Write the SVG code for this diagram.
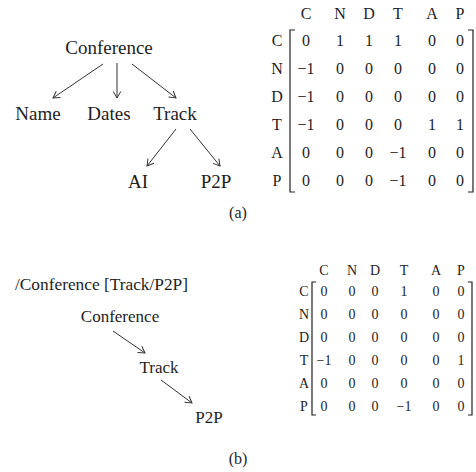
<svg xmlns="http://www.w3.org/2000/svg" width="476" height="472" viewBox="0 0 476 472">
<style>
text{font-family:'Liberation Serif','Times New Roman','DejaVu Serif',serif;fill:#1e1e1e}
.ta{font-size:19px;text-anchor:middle}
.tb{font-size:17px;text-anchor:middle}
.ma{font-size:16px;text-anchor:middle}
.mb{font-size:14px;text-anchor:middle}
.cap{font-size:16px;text-anchor:middle}
.e{stroke:#333;stroke-width:1;fill:none}
.br{stroke:#222;stroke-width:1.2;fill:none}
</style>
<defs>
<marker id="ar" viewBox="-8 -5 10 10" refX="0" refY="0" markerWidth="10" markerHeight="10" markerUnits="userSpaceOnUse" orient="auto">
<path d="M-6.5,-3.8 L0,0 L-6.5,3.8" stroke="#333" stroke-width="1" fill="none"/>
</marker>
</defs>
<g id="tree-a">
<g id="a-conference"><text class="ta" x="109" y="54">Conference</text></g>
<g id="a-name"><text class="ta" x="38" y="120">Name</text></g>
<g id="a-dates"><text class="ta" x="109" y="120">Dates</text></g>
<g id="a-track"><text class="ta" x="175" y="120">Track</text></g>
<g id="a-ai"><text class="ta" x="138" y="188">AI</text></g>
<g id="a-p2p"><text class="ta" x="216" y="188">P2P</text></g>
</g>
<g id="connectors-a">
<line class="e" x1="103" y1="64" x2="53" y2="98" marker-end="url(#ar)"/>
<line class="e" x1="117" y1="63" x2="117" y2="98" marker-end="url(#ar)"/>
<line class="e" x1="132" y1="64" x2="176" y2="98" marker-end="url(#ar)"/>
<line class="e" x1="176" y1="129" x2="147" y2="166" marker-end="url(#ar)"/>
<line class="e" x1="190" y1="129" x2="220" y2="166" marker-end="url(#ar)"/>
</g>
<g id="matrix-a">
<g class="ma">
<text x="306" y="19">C</text><text x="340" y="19">N</text><text x="369" y="19">D</text><text x="398" y="19">T</text><text x="432" y="19">A</text><text x="460" y="19">P</text>
<text x="277" y="46">C</text><text x="277" y="74">N</text><text x="277" y="102">D</text><text x="277" y="130">T</text><text x="277" y="158">A</text><text x="277" y="186">P</text>
<text x="306" y="46">0</text><text x="340" y="46">1</text><text x="369" y="46">1</text><text x="398" y="46">1</text><text x="432" y="46">0</text><text x="460" y="46">0</text>
<text x="306" y="74">−1</text><text x="340" y="74">0</text><text x="369" y="74">0</text><text x="398" y="74">0</text><text x="432" y="74">0</text><text x="460" y="74">0</text>
<text x="306" y="102">−1</text><text x="340" y="102">0</text><text x="369" y="102">0</text><text x="398" y="102">0</text><text x="432" y="102">0</text><text x="460" y="102">0</text>
<text x="306" y="130">−1</text><text x="340" y="130">0</text><text x="369" y="130">0</text><text x="398" y="130">0</text><text x="432" y="130">1</text><text x="460" y="130">1</text>
<text x="306" y="158">0</text><text x="340" y="158">0</text><text x="369" y="158">0</text><text x="398" y="158">−1</text><text x="432" y="158">0</text><text x="460" y="158">0</text>
<text x="306" y="186">0</text><text x="340" y="186">0</text><text x="369" y="186">0</text><text x="398" y="186">−1</text><text x="432" y="186">0</text><text x="460" y="186">0</text>
</g>
<path class="br" d="M295,30 H290 V192 H295"/>
<path class="br" d="M468,30 H473 V192 H468"/>
</g>
<text class="cap" x="238" y="218">(a)</text>
<g id="tree-b">
<g id="b-query"><text x="15" y="290" style="font-size:17px" textLength="173" lengthAdjust="spacingAndGlyphs">/Conference [Track/P2P]</text></g>
<g id="b-conference"><text class="tb" x="120" y="322">Conference</text></g>
<g id="b-track"><text class="tb" x="159" y="373">Track</text></g>
<g id="b-p2p"><text class="tb" x="209" y="423">P2P</text></g>
</g>
<g id="connectors-b">
<line class="e" x1="113" y1="331" x2="145" y2="353" marker-end="url(#ar)"/>
<line class="e" x1="161" y1="380" x2="192" y2="403" marker-end="url(#ar)"/>
</g>
<g id="matrix-b">
<g class="mb">
<text x="324" y="275">C</text><text x="352" y="275">N</text><text x="375" y="275">D</text><text x="404" y="275">T</text><text x="436" y="275">A</text><text x="461" y="275">P</text>
<text x="304" y="296">C</text><text x="304" y="319">N</text><text x="304" y="342">D</text><text x="304" y="365">T</text><text x="304" y="388">A</text><text x="304" y="411">P</text>
<text x="324" y="296">0</text><text x="352" y="296">0</text><text x="375" y="296">0</text><text x="404" y="296">1</text><text x="436" y="296">0</text><text x="461" y="296">0</text>
<text x="324" y="319">0</text><text x="352" y="319">0</text><text x="375" y="319">0</text><text x="404" y="319">0</text><text x="436" y="319">0</text><text x="461" y="319">0</text>
<text x="324" y="342">0</text><text x="352" y="342">0</text><text x="375" y="342">0</text><text x="404" y="342">0</text><text x="436" y="342">0</text><text x="461" y="342">0</text>
<text x="324" y="365">−1</text><text x="352" y="365">0</text><text x="375" y="365">0</text><text x="404" y="365">0</text><text x="436" y="365">0</text><text x="461" y="365">1</text>
<text x="324" y="388">0</text><text x="352" y="388">0</text><text x="375" y="388">0</text><text x="404" y="388">0</text><text x="436" y="388">0</text><text x="461" y="388">0</text>
<text x="324" y="411">0</text><text x="352" y="411">0</text><text x="375" y="411">0</text><text x="404" y="411">−1</text><text x="436" y="411">0</text><text x="461" y="411">0</text>
</g>
<path class="br" d="M316,282 H312 V415 H316"/>
<path class="br" d="M468,282 H472 V415 H468"/>
</g>
<text class="cap" x="238" y="464">(b)</text>
</svg>
